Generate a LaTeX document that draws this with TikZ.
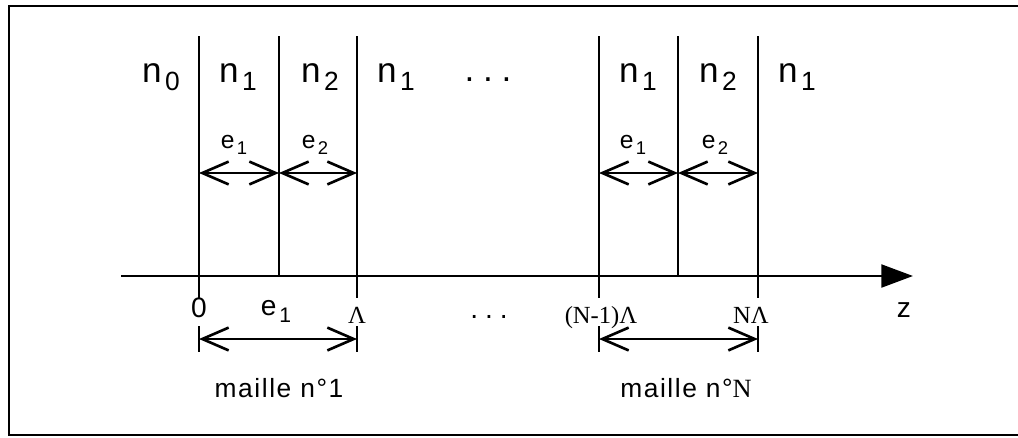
\documentclass[tikz,border=0pt]{standalone}
\usepackage{fontspec}
\setmainfont{Liberation Sans}
\newfontfamily\timesfont{Liberation Serif}
\usetikzlibrary{arrows.meta}

\newcommand\ind[2]{#1\kern.1em\raisebox{-.25em}{\scalebox{.75}{#2}}}

\begin{document}
\begin{tikzpicture}[x=0.02cm,y=-0.02cm,line width=1.5pt,
    idx/.style={font=\fontsize{20}{22}\selectfont,anchor=base},
    ep/.style={font=\fontsize{14}{16}\selectfont,anchor=base},
    zlab/.style={font=\fontsize{16}{18}\selectfont,anchor=base},
    grk/.style={font=\timesfont\fontsize{14}{16}\selectfont,anchor=base},
    cell/.style={font=\fontsize{15}{17}\selectfont\addfontfeature{LetterSpace=6},anchor=base},
    dim/.style={{Straight Barb[length=15pt,width=13pt]}-{Straight Barb[length=15pt,width=13pt]}}]
  \useasboundingbox (0,0) rectangle (1018,437);
  % frame
  \draw[line width=1.4pt] (1018,6) -- (9,6) -- (9,435) -- (1018,435);
  % interfaces
  \coordinate (i0) at (199,36); \coordinate (i1) at (279,36); \coordinate (i2) at (357,36);
  \coordinate (j0) at (599,36); \coordinate (j1) at (678,36); \coordinate (j2) at (758,36);
  \coordinate (zs) at (121,276); \coordinate (ze) at (913,276);
  \coordinate (low) at (0,298); \coordinate (eh) at (0,173);
  \coordinate (tt) at (0,326); \coordinate (tb) at (0,352); \coordinate (ml) at (0,339);
  \foreach \c in {i0,i2,j0,j2} \draw (\c) -- (\c |- low);
  \foreach \c in {i1,j1} \draw (\c) -- (\c |- zs);
  \draw[-{Triangle[length=18pt,width=13pt]}] (zs) -- (ze);
  % indices
  \node[idx] (n0) at (161,82) {\ind{n}{0}};
  \node[idx] (na) at (238,82) {\ind{n}{1}};
  \node[idx] (nb) at (320,82) {\ind{n}{2}};
  \node[idx] (nc) at (396,82) {\ind{n}{1}};
  \node[idx] (dt) at (488,81) {.\hspace{5pt}.\hspace{5pt}.};
  \node[idx] (nd) at (638,82) {\ind{n}{1}};
  \node[idx] (ne) at (718,82) {\ind{n}{2}};
  \node[idx] (nf) at (797,82) {\ind{n}{1}};
  % thicknesses
  \node[ep] (ea) at (234,148) {\ind{e}{1}};
  \node[ep] (eb) at (315,148) {\ind{e}{2}};
  \node[ep] (ec) at (633,148) {\ind{e}{1}};
  \node[ep] (ed) at (715,148) {\ind{e}{2}};
  \draw[dim] (i0 |- eh) -- (i1 |- eh);
  \draw[dim] (i1 |- eh) -- (i2 |- eh);
  \draw[dim] (j0 |- eh) -- (j1 |- eh);
  \draw[dim] (j1 |- eh) -- (j2 |- eh);
  % positions
  \node[zlab] (p0) at (199,317) {0};
  \node[zlab] (pe) at (276,315) {\ind{e}{1}};
  \node[grk] (pl) at (357,323) {Λ};
  \node[zlab] (pd) at (489,318) {.\hspace{4pt}.\hspace{4pt}.};
  \node[grk] (pm) at (601,323) {(N-1)Λ};
  \node[grk] (pn) at (751,323) {NΛ};
  \node[zlab] (pz) at (904,317) {z};
  % cells
  \foreach \c in {i0,i2,j0,j2} \draw (\c |- tt) -- (\c |- tb);
  \draw[dim] (i0 |- ml) -- (i2 |- ml);
  \draw[dim] (j0 |- ml) -- (j2 |- ml);
  \node[cell] (m1) at (279,397) {maille n°1};
  \node[cell] (mN) at (686,397) {maille n°{\timesfont N}};
\end{tikzpicture}
\end{document}
